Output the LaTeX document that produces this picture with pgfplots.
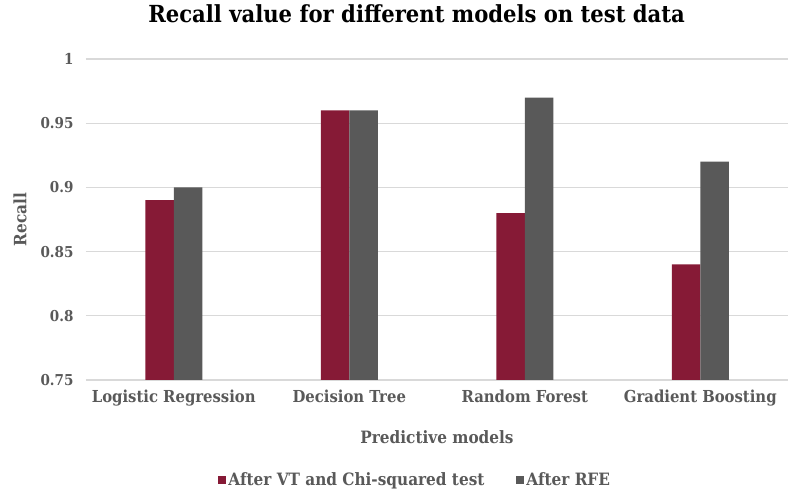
\documentclass[border=0pt]{standalone}
\usepackage{pgfplots}
\pgfplotsset{compat=1.18}
\usepackage{fontspec}
\setmainfont{DejaVu Serif Condensed}
\definecolor{maroon}{HTML}{861A36}
\definecolor{dgray}{HTML}{595959}
\definecolor{gridc}{HTML}{D9D9D9}
\definecolor{txt}{HTML}{595959}
\begin{document}
\begin{tikzpicture}
\useasboundingbox (-86pt,-122pt) rectangle (705pt,380pt);
\begin{axis}[
  at={(0pt,0pt)}, anchor=south west,
  scale only axis, width=702pt, height=321pt,
  ybar=0pt, bar width=28.5pt,
  xmin=-0.5, xmax=3.5, ymin=0.75, ymax=1,
  xtick=data,
  xticklabels={Logistic Regression, Decision Tree, Random Forest, Gradient Boosting},
  ytick={0.75,0.8,0.85,0.9,0.95,1},
  yticklabels={0.75,0.8,0.85,0.9,0.95,1},
  xmajorgrids=false, ymajorgrids=true,
  major grid style={draw=gridc, line width=1.2pt},
  axis line style={draw=none},
  major tick length=0pt,
  xticklabel style={font=\bfseries\fontsize{16.5}{18}\selectfont, text=txt, yshift=-6pt},
  yticklabel style={font=\bfseries\fontsize{15}{17}\selectfont, text=txt, xshift=-9pt},
  xlabel={Predictive models}, ylabel={Recall},
  label style={font=\bfseries\fontsize{17}{19}\selectfont, text=txt},
  xlabel style={at={(axis description cs:0.5,-0.178)}, anchor=center},
  ylabel style={at={(axis description cs:-0.094,0.5)}, anchor=center, rotate=0},
  title={Recall value for different models on test data},
  title style={at={(axis description cs:0.471,1.121)}, anchor=center, font=\bfseries\fontsize{23.5}{26}\selectfont},
  legend style={at={(axis description cs:0.469,-0.311)}, anchor=center, draw=none, legend columns=2,
    font=\bfseries\fontsize{17}{19}\selectfont, text=txt,
    /tikz/every even column/.append style={column sep=30pt}},
  legend image code/.code={\fill[#1] (0pt,-4pt) rectangle (8pt,4pt);},
]
\addplot[fill=maroon, draw=none] coordinates {(0,0.89) (1,0.96) (2,0.88) (3,0.84)};
\addplot[fill=dgray, draw=none] coordinates {(0,0.90) (1,0.96) (2,0.97) (3,0.92)};
\legend{After VT and Chi-squared test, After RFE}
\end{axis}
\end{tikzpicture}
\end{document}
